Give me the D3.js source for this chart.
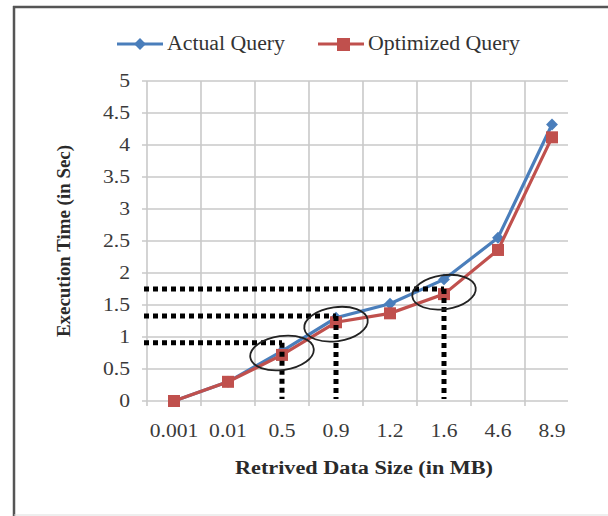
<!DOCTYPE html>
<html><head><meta charset="utf-8">
<script src="https://cdn.jsdelivr.net/npm/d3@7"></script>
<style>body{margin:0;background:#fff}svg{display:block}text{font-family:"Liberation Serif","Times New Roman",serif}</style>
</head><body>
<svg id="c" width="608" height="516"></svg>
<script>
const categories = ["0.001","0.01","0.5","0.9","1.2","1.6","4.6","8.9"];
const actualQuery = [0, 0.3, 0.78, 1.3, 1.52, 1.9, 2.55, 4.32];
const optimizedQuery = [0, 0.3, 0.72, 1.23, 1.37, 1.67, 2.36, 4.12];
const yTicks = [0, 0.5, 1, 1.5, 2, 2.5, 3, 3.5, 4, 4.5, 5];
const seriesNames = ["Actual Query", "Optimized Query"];
// annotation: dotted guide lines (category, value) and circled points
const guideCats = ["0.5", "0.9", "1.6"];
const guideVals = [0.91, 1.33, 1.75];
const circleVals = [0.75, 1.2, 1.7];

const svg = d3.select("#c");
const blue = "#4a7ebb", red = "#c0504d", grid = "#c9c9c9";
const plotL = 147, plotR = 579, clipR = 568, plotT = 81, plotB = 401;

const x = d3.scaleBand().domain(categories).range([plotL, plotR]).padding(0);
const y = d3.scaleLinear().domain([0, 5]).range([plotB, plotT]);
const cx = c => x(c) + x.bandwidth() / 2;

// frame
svg.append("line").attr("x1", 14).attr("x2", 14).attr("y1", 6).attr("y2", 516).attr("stroke", "#555").attr("stroke-width", 2.5);
svg.append("line").attr("x1", 13).attr("x2", 608).attr("y1", 7).attr("y2", 7).attr("stroke", "#555").attr("stroke-width", 2.5);
svg.append("line").attr("x1", 14).attr("x2", 608).attr("y1", 515).attr("y2", 515).attr("stroke", "#ddd").attr("stroke-width", 1);

// horizontal gridlines + y ticks
svg.append("g").selectAll("line").data(yTicks).join("line")
  .attr("x1", plotL - 5).attr("x2", clipR).attr("y1", d => y(d)).attr("y2", d => y(d))
  .attr("stroke", grid).attr("stroke-width", 1.6);
// vertical gridlines at band boundaries
const bounds = categories.map(c => x(c));
svg.append("g").selectAll("line").data(bounds).join("line")
  .attr("x1", d => d).attr("x2", d => d).attr("y1", plotT).attr("y2", plotB + 5)
  .attr("stroke", grid).attr("stroke-width", 1.6);

// y tick labels
svg.append("g").selectAll("text").data(yTicks).join("text")
  .attr("transform", d => `translate(130,${y(d) + 6}) scale(1.2,1)`)
  .attr("text-anchor", "end").attr("font-size", 18).attr("fill", "#3a3a3a")
  .text(d => d);
// x tick labels
svg.append("g").selectAll("text").data(categories).join("text")
  .attr("transform", d => `translate(${cx(d)},437) scale(1.2,1)`)
  .attr("text-anchor", "middle").attr("font-size", 18).attr("fill", "#3a3a3a")
  .text(d => d);

// axis titles
svg.append("text").attr("x", 364).attr("y", 474).attr("text-anchor", "middle")
  .attr("font-size", 18).attr("font-weight", "bold").attr("fill", "#2a2a2a")
  .attr("textLength", 258).attr("lengthAdjust", "spacingAndGlyphs")
  .text("Retrived Data Size (in MB)");
svg.append("text").attr("transform", "translate(70,241) rotate(-90)").attr("text-anchor", "middle")
  .attr("font-size", 18).attr("font-weight", "bold").attr("fill", "#2a2a2a")
  .attr("textLength", 192).attr("lengthAdjust", "spacingAndGlyphs")
  .text("Execution Time (in Sec)");

// series
const line = d3.line().x((d, i) => cx(categories[i])).y(d => y(d));
svg.append("path").datum(actualQuery).attr("d", line).attr("fill", "none").attr("stroke", blue).attr("stroke-width", 3.2);
svg.append("g").selectAll("path").data(actualQuery).join("path")
  .attr("d", d3.symbol(d3.symbolDiamond2, 90)())
  .attr("transform", (d, i) => `translate(${cx(categories[i])},${y(d)})`)
  .attr("fill", blue);
svg.append("path").datum(optimizedQuery).attr("d", line).attr("fill", "none").attr("stroke", red).attr("stroke-width", 3.2);
svg.append("g").selectAll("rect").data(optimizedQuery).join("rect")
  .attr("x", (d, i) => cx(categories[i]) - 6).attr("y", d => y(d) - 6)
  .attr("width", 12).attr("height", 12).attr("fill", red);

// dotted guides
const dot = {stroke: "#000", "stroke-width": 5, "stroke-dasharray": "5,4"};
guideCats.forEach((c, i) => {
  const h = svg.append("line").attr("x1", plotL - 3).attr("x2", cx(c)).attr("y1", y(guideVals[i])).attr("y2", y(guideVals[i]));
  const v = svg.append("line").attr("x1", cx(c)).attr("x2", cx(c)).attr("y1", y(guideVals[i])).attr("y2", plotB - 2);
  [h, v].forEach(l => Object.entries(dot).forEach(([k, val]) => l.attr(k, val)));
});
// circles around points
svg.append("g").selectAll("ellipse").data(guideCats).join("ellipse")
  .attr("transform", (c, i) => `translate(${cx(c)},${y(circleVals[i])}) rotate(-8)`)
  .attr("rx", 32).attr("ry", 17).attr("fill", "none").attr("stroke", "#222").attr("stroke-width", 1.8);

// legend
const leg = svg.append("g");
leg.append("line").attr("x1", 117).attr("x2", 163).attr("y1", 44).attr("y2", 44).attr("stroke", blue).attr("stroke-width", 3.2);
leg.append("path").attr("d", d3.symbol(d3.symbolDiamond2, 90)()).attr("transform", "translate(140,44)").attr("fill", blue);
leg.append("text").attr("x", 167).attr("y", 50).attr("font-size", 20).attr("fill", "#333")
  .attr("textLength", 118).attr("lengthAdjust", "spacingAndGlyphs").text(seriesNames[0]);
leg.append("line").attr("x1", 318).attr("x2", 364).attr("y1", 44).attr("y2", 44).attr("stroke", red).attr("stroke-width", 3.2);
leg.append("rect").attr("x", 337).attr("y", 38).attr("width", 13).attr("height", 13).attr("fill", red);
leg.append("text").attr("x", 368).attr("y", 50).attr("font-size", 20).attr("fill", "#333")
  .attr("textLength", 152).attr("lengthAdjust", "spacingAndGlyphs").text(seriesNames[1]);
</script>
</body></html>
